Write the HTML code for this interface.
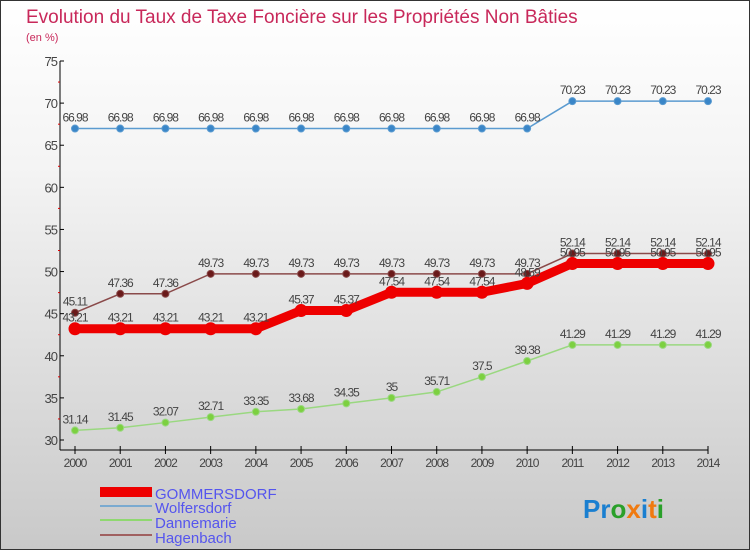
<!DOCTYPE html>
<html><head><meta charset="utf-8"><style>
body{margin:0}
#wrap{width:750px;height:550px;position:relative;background:linear-gradient(#ffffff,#f4f4f4 30%,#c9c9c9);font-family:"Liberation Sans",sans-serif;box-sizing:border-box;border:1px solid #333}
</style></head><body>
<div id="wrap">
<svg id="svg" width="750" height="550" style="position:absolute;left:-1px;top:-1px">
<text x="26" y="23" font-size="19" fill="#c8285a">Evolution du Taux de Taxe Foncière sur les Propriétés Non Bâties</text>
<text x="26" y="41" font-size="11" fill="#c8285a">(en %)</text>
<g id="axes"></g><g id="series"></g>
<g>
<rect x="100" y="487" width="52" height="10" fill="#e00"/>
<text x="155" y="499" font-size="15" fill="#5555ee">GOMMERSDORF</text>
<line x1="100" y1="506" x2="152" y2="506" stroke="#7aaad0" stroke-width="2"/>
<text x="155" y="513" font-size="15" fill="#5555ee">Wolfersdorf</text>
<line x1="100" y1="520" x2="152" y2="520" stroke="#8fd870" stroke-width="2"/>
<text x="155" y="528" font-size="15" fill="#5555ee">Dannemarie</text>
<line x1="100" y1="535" x2="152" y2="535" stroke="#a06060" stroke-width="2"/>
<text x="155" y="543" font-size="15" fill="#5555ee">Hagenbach</text>
</g>
<text x="583" y="518" font-size="26" font-weight="bold"><tspan fill="#1a7fd0">Pr</tspan><tspan fill="#2aa02a">o</tspan><tspan fill="#f07a10">x</tspan><tspan fill="#1a7fd0">i</tspan><tspan fill="#f07a10">t</tspan><tspan fill="#2aa02a">i</tspan></text>
</svg>
</div>
<script>
const years=[2000,2001,2002,2003,2004,2005,2006,2007,2008,2009,2010,2011,2012,2013,2014];
const yTicks=[30,35,40,45,50,55,60,65,70,75];
const gommersdorf=[43.21,43.21,43.21,43.21,43.21,45.37,45.37,47.54,47.54,47.54,48.59,50.95,50.95,50.95,50.95];
const wolfersdorf=[66.98,66.98,66.98,66.98,66.98,66.98,66.98,66.98,66.98,66.98,66.98,70.23,70.23,70.23,70.23];
const dannemarie=[31.14,31.45,32.07,32.71,33.35,33.68,34.35,35,35.71,37.5,39.38,41.29,41.29,41.29,41.29];
const hagenbach=[45.11,47.36,47.36,49.73,49.73,49.73,49.73,49.73,49.73,49.73,49.73,52.14,52.14,52.14,52.14];
const NS="http://www.w3.org/2000/svg";
const X=i=>75+i*(708-75)/(years.length-1);
const Y=v=>440-(v-30)*(440-61)/45;
function mk(t,a,p){const e=document.createElementNS(NS,t);for(const k in a)e.setAttribute(k,a[k]);p.appendChild(e);return e;}
const ax=document.getElementById('axes'),sg=document.getElementById('series');
const yl=mk('line',{x1:60,y1:61,x2:60,y2:450,stroke:'#000'},ax);


const xl=mk('line',{x1:60,y1:450,x2:708,y2:450,stroke:'#000'},ax);


yTicks.forEach(v=>{mk('line',{x1:60,x2:64,y1:Y(v),y2:Y(v),stroke:'#000'},ax);
 if(v<75)mk('line',{x1:58,x2:60,y1:Y(v+2.5),y2:Y(v+2.5),stroke:'#d00'},ax);
 const t=mk('text',{x:57,y:Y(v)+5,'font-size':13,'text-anchor':'end',fill:'#444','letter-spacing':'-1'},ax);t.textContent=v;
 
 });
years.forEach((y,i)=>{mk('line',{x1:X(i),x2:X(i),y1:446,y2:454,stroke:'#000'},ax);
 const t=mk('text',{x:X(i),y:467,'font-size':12,'text-anchor':'middle',fill:'#444','letter-spacing':'-1'},ax);t.textContent=y;
 
 });
function series(d,name,col,dot,w,r,lab){
 const g=mk('g',{},sg);
 
 
 mk('polyline',{points:d.map((v,i)=>X(i)+','+Y(v)).join(' '),fill:'none',stroke:col,'stroke-width':w},g);
 d.forEach((v,i)=>{const c=mk('circle',{cx:X(i),cy:Y(v),r:r,fill:dot,stroke:col},g);
  
  
  if(lab){const t=mk('text',{x:X(i),y:Y(v)-7,'font-size':12,'text-anchor':'middle',fill:'#444','letter-spacing':'-1'},g);t.textContent=v;
  
  }});
}
series(wolfersdorf,'wolfersdorf','#5b9bd0','#3a86c8',1.5,3.5,1);
series(dannemarie,'dannemarie','#9ad880','#7cd040',1.5,3.5,1);
series(hagenbach,'hagenbach','#8a4a4a','#6a1a1a',1.5,3.5,1);
series(gommersdorf,'gommersdorf','#ee0000','#ee0000',9,6,1);
</script>
</body></html>
